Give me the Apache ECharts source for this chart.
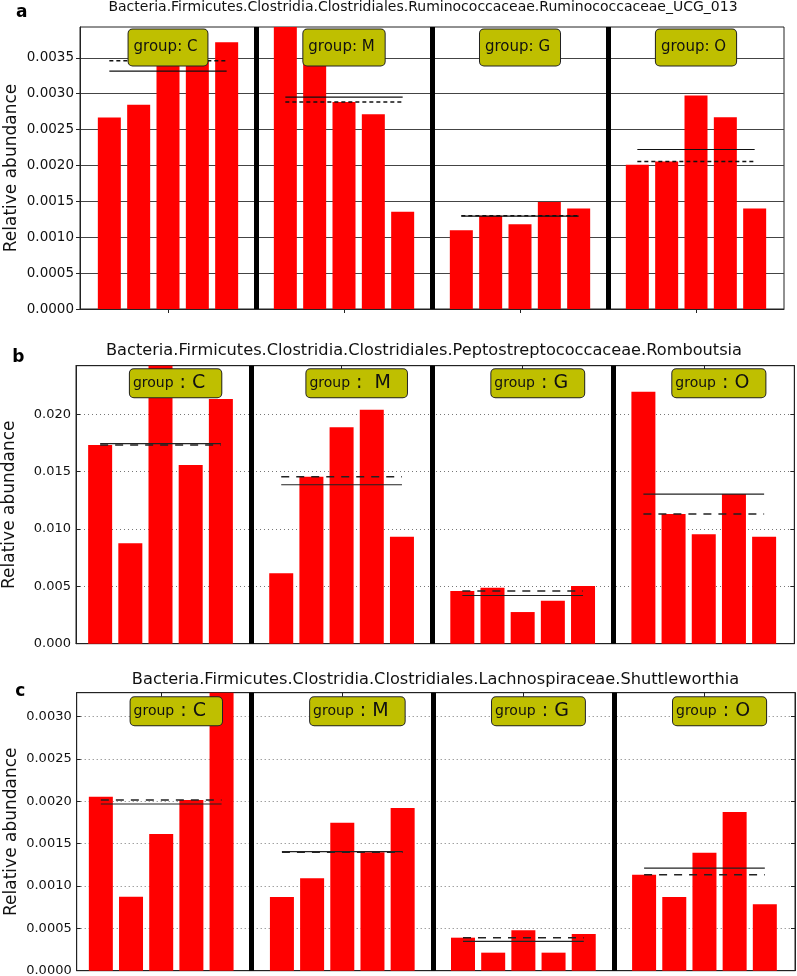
<!DOCTYPE html>
<html>
<head>
<meta charset="utf-8">
<script src="https://cdn.jsdelivr.net/npm/echarts@6/dist/echarts.min.js"></script>
<style>
html, body { margin: 0; padding: 0; background: #ffffff; }
#chart { width: 797px; height: 976px; }
</style>
</head>
<body>
<div id="chart"></div>
<script>
// ---------------- data ----------------
const groupNames = ['C', 'M', 'G', 'O'];
const panelLetters = ['a', 'b', 'c'];
const panelTitles = [
  'Bacteria.Firmicutes.Clostridia.Clostridiales.Ruminococcaceae.Ruminococcaceae_UCG_013',
  'Bacteria.Firmicutes.Clostridia.Clostridiales.Peptostreptococcaceae.Romboutsia',
  'Bacteria.Firmicutes.Clostridia.Clostridiales.Lachnospiraceae.Shuttleworthia'
];
const yAxisTitle = 'Relative abundance';

// panel a : Ruminococcaceae_UCG_013
const aGroupC = [0.002668, 0.002845, 0.00388, 0.003458, 0.003719];
const aGroupM = [0.00393, 0.003872, 0.002886, 0.002715, 0.001357];
const aGroupG = [0.001097, 0.001301, 0.001181, 0.001492, 0.001399];
const aGroupO = [0.002012, 0.002054, 0.002975, 0.002673, 0.001399];

// panel b : Romboutsia
const bGroupC = [0.01732, 0.00875, 0.02424, 0.01558, 0.02133];
const bGroupM = [0.00614, 0.01456, 0.01887, 0.0204, 0.00933];
const bGroupG = [0.00459, 0.00488, 0.00276, 0.00375, 0.00503];
const bGroupO = [0.02197, 0.01131, 0.00954, 0.01305, 0.00933];

// panel c : Shuttleworthia
const cGroupC = [0.002055, 0.000874, 0.001615, 0.002016, 0.003283];
const cGroupM = [0.00087, 0.001091, 0.001748, 0.001398, 0.001922];
const cGroupG = [0.00039, 0.000213, 0.000477, 0.000213, 0.000433];
const cGroupO = [0.001134, 0.00087, 0.001394, 0.001874, 0.000784];

// tick labels
const aYTicks = [0, 0.0005, 0.0010, 0.0015, 0.0020, 0.0025, 0.0030, 0.0035];
const bYTicks = [0, 0.005, 0.010, 0.015, 0.020];
const cYTicks = [0, 0.0005, 0.0010, 0.0015, 0.0020, 0.0025, 0.0030];

// group box texts (as printed in each panel)
const aBoxSep = [': ', ': ', ': ', ': '];
const bBoxSep = [' : ', ' :  ', ' : ', ' : '];
const cBoxSep = [' : ', ' : ', ' : ', ' : '];

// ---------------- layout / style ----------------
const FONT = 'DejaVu Sans';
const GROUP_SPAN = 6;   // x units per group (5 bars + gap)
const X_MAX = 24;

const panels = [
  { title: panelTitles[0], letter: panelLetters[0], groups: [aGroupC, aGroupM, aGroupG, aGroupO],
    ticks: aYTicks, step: 0.0005, dec: 4, seps: aBoxSep, xMin: 0,
    grid: { left: 80, right: 13, top: 27, height: 282 },
    titleX: 423, titleY: 7.5, titleSize: 14, letterX: 21.7, letterY: 13,
    tickSize: 13.5, labelMargin: 6, nameGap: 60, classic: false, barWidth: 23,
    boxShift: 0, boxDist: 2, gridColor: '#444', gridType: 'solid',
    dash: [4, 3], lineColor: '#111' },
  { title: panelTitles[1], letter: panelLetters[1], groups: [bGroupC, bGroupM, bGroupG, bGroupO],
    ticks: bYTicks, step: 0.005, dec: 3, seps: bBoxSep, xMin: 0.2,
    grid: { left: 76, right: 2.7, top: 365.7, height: 278 },
    titleX: 424, titleY: 350.8, titleSize: 16.2, letterX: 18.3, letterY: 357.4,
    tickSize: 13, labelMargin: 5, nameGap: 57.5, classic: true, barWidth: 24,
    boxShift: 0.5, boxDist: 3, gridColor: '#777', gridType: [1, 3],
    dash: [8, 7], lineColor: '#222' },
  { title: panelTitles[2], letter: panelLetters[2], groups: [cGroupC, cGroupM, cGroupG, cGroupO],
    ticks: cYTicks, step: 0.0005, dec: 4, seps: cBoxSep, xMin: 0.2,
    grid: { left: 76.7, right: 2, top: 692.7, height: 278 },
    titleX: 435.5, titleY: 679.8, titleSize: 16.2, letterX: 20.3, letterY: 691.8,
    tickSize: 13, labelMargin: 5, nameGap: 56.7, classic: true, barWidth: 24,
    boxShift: 0.5, boxDist: 4, gridColor: '#777', gridType: [1, 3],
    dash: [8, 7], lineColor: '#222' }
];

const mean = arr => arr.reduce((s, v) => s + v, 0) / arr.length;
const median = arr => { const s = arr.slice().sort((x, y) => x - y); return s[Math.floor(s.length / 2)]; };

const grids = [], xAxes = [], yAxes = [], series = [], graphics = [];
const groupCenters = groupNames.map((g, gi) => gi * GROUP_SPAN + 3);

panels.forEach((P, p) => {
  const all = P.groups.flat();
  const yMax = Math.max(...all);
  grids.push(Object.assign({ show: true, borderColor: '#222', borderWidth: 1, backgroundColor: 'transparent',
    containLabel: false, outerBoundsMode: 'none' }, P.grid));

  // x axes
  const xb = xAxes.length;
  xAxes.push({
    gridIndex: p, type: 'value', min: P.xMin, max: X_MAX, position: 'bottom',
    axisLine: { show: true, onZero: false, lineStyle: { color: '#222', width: 1 } },
    axisTick: { show: true, inside: P.classic, length: 4, customValues: groupCenters, lineStyle: { color: '#222' } },
    axisLabel: { show: false }, splitLine: { show: false }
  });
  if (P.classic) {
    xAxes.push({
      gridIndex: p, type: 'value', min: P.xMin, max: X_MAX, position: 'top',
      axisLine: { show: true, onZero: false, lineStyle: { color: '#222', width: 1 } },
      axisTick: { show: true, inside: true, length: 4, customValues: groupCenters, lineStyle: { color: '#222' } },
      axisLabel: { show: false }, splitLine: { show: false }
    });
  }
  // y axes
  const yl = yAxes.length;
  yAxes.push({
    gridIndex: p, type: 'value', min: 0, max: yMax, interval: P.step, position: 'left',
    axisLine: { show: true, onZero: false, lineStyle: { color: '#222', width: 1 } },
    axisTick: { show: true, inside: P.classic, length: 4, customValues: P.ticks, lineStyle: { color: '#222' } },
    axisLabel: { show: true, customValues: P.ticks, formatter: v => Number(v).toFixed(P.dec),
      fontFamily: FONT, fontSize: P.tickSize, color: '#111', margin: P.labelMargin },
    splitLine: { show: true, lineStyle: { color: P.gridColor, width: 1, type: P.gridType } },
    name: yAxisTitle, nameLocation: 'middle', nameGap: P.nameGap, nameRotate: 90, nameMoveOverlap: false,
    nameTextStyle: { fontFamily: FONT, fontSize: 17, color: '#111' }
  });
  if (P.classic) {
    yAxes.push({
      gridIndex: p, type: 'value', min: 0, max: yMax, interval: P.step, position: 'right',
      axisLine: { show: true, onZero: false, lineStyle: { color: '#222', width: 1 } },
      axisTick: { show: true, inside: true, length: 4, customValues: P.ticks, lineStyle: { color: '#222' } },
      axisLabel: { show: false }, splitLine: { show: false }
    });
  }

  // bars
  const barData = [];
  P.groups.forEach((vals, gi) => vals.forEach((v, i) => barData.push([gi * GROUP_SPAN + 1 + i, v])));
  series.push({
    type: 'bar', xAxisIndex: xb, yAxisIndex: yl, data: barData, barWidth: P.barWidth,
    itemStyle: { color: '#ff0000' }, z: 2, silent: true,
    markLine: {
      silent: true, symbol: ['none', 'none'], label: { show: false }, animation: false,
      lineStyle: { color: '#000', width: 5, type: 'solid' },
      emphasis: { disabled: true },
      data: [1, 2, 3].map(k => ({ xAxis: k * GROUP_SPAN }))
    }
  });

  // mean (solid) and median (dashed) lines per group
  P.groups.forEach((vals, gi) => {
    const x0 = gi * GROUP_SPAN + 1, x1 = gi * GROUP_SPAN + vals.length;
    const m = mean(vals), md = median(vals);
    series.push({
      type: 'line', xAxisIndex: xb, yAxisIndex: yl, data: [[x0, m], [x1, m]],
      showSymbol: false, symbol: 'none', silent: true, z: 4,
      lineStyle: { color: P.lineColor, width: 1.2, type: 'solid' }
    });
    series.push({
      type: 'line', xAxisIndex: xb, yAxisIndex: yl, data: [[x0, md], [x1, md]],
      showSymbol: false, symbol: 'none', silent: true, z: 4,
      lineStyle: { color: P.lineColor, width: 1.5, type: P.dash }
    });
  });

  // group boxes
  const rich = P.classic ? {
    g: { fontFamily: FONT, fontSize: 14, color: '#111', lineHeight: 22 },
    k: { fontFamily: FONT, fontSize: 19, color: '#111', lineHeight: 22 }
  } : {
    g: { fontFamily: FONT, fontSize: 15, color: '#111', lineHeight: 18 },
    k: { fontFamily: FONT, fontSize: 15, color: '#111', lineHeight: 18 }
  };
  series.push({
    type: 'scatter', xAxisIndex: xb, yAxisIndex: yl, silent: true, clip: false, z: 10,
    symbolSize: 1, itemStyle: { color: 'rgba(0,0,0,0)', opacity: 1 },
    data: groupNames.map((g, gi) => [groupCenters[gi] + P.boxShift, yMax]),
    label: {
      show: true, position: 'bottom', distance: P.boxDist,
      formatter: params => '{g|group}{k|' + P.seps[params.dataIndex] + groupNames[params.dataIndex] + '}',
      rich: rich, opacity: 1,
      backgroundColor: '#bfbf00', borderColor: '#222', borderWidth: 1, borderRadius: 4,
      padding: P.classic ? [3, 16, 3, 3] : [9, 10, 9, 5]
    }
  });

  // titles and panel letters
  graphics.push({
    type: 'text', x: P.titleX, y: P.titleY, silent: true,
    style: { text: P.title, fontFamily: FONT, fontSize: P.titleSize, fill: '#111',
      align: 'center', verticalAlign: 'middle', textAlign: 'center', textVerticalAlign: 'middle' }
  });
  graphics.push({
    type: 'text', x: P.letterX, y: P.letterY, silent: true,
    style: { text: P.letter, fontFamily: FONT, fontSize: 17, fontWeight: 'bold', fill: '#000',
      align: 'center', verticalAlign: 'middle', textAlign: 'center', textVerticalAlign: 'middle' }
  });
});

const chart = echarts.init(document.getElementById('chart'), null, { renderer: 'canvas' });
chart.setOption({
  animation: false,
  backgroundColor: '#ffffff',
  grid: grids,
  xAxis: xAxes,
  yAxis: yAxes,
  series: series,
  graphic: graphics
});
</script>
</body>
</html>
